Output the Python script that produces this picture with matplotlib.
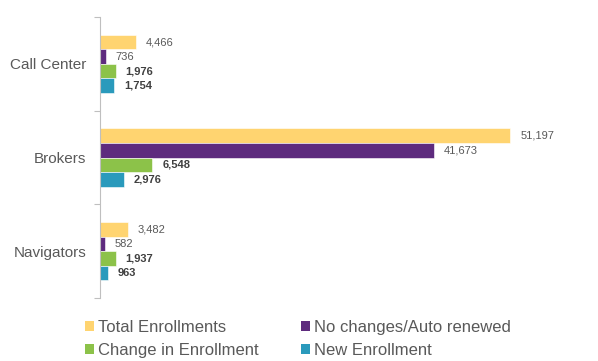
import matplotlib
matplotlib.use('Agg')
import matplotlib.pyplot as plt
from matplotlib.patches import Patch

plt.rcParams['font.family'] = ['Liberation Sans', 'DejaVu Sans']

channels = ['Call Center', 'Brokers', 'Navigators']
series = ['Total Enrollments', 'No changes/Auto renewed', 'Change in Enrollment', 'New Enrollment']
total_enrollments = [4466, 51197, 3482]
no_changes = [736, 41673, 582]
change_in_enrollment = [1976, 6548, 1937]
new_enrollment = [1754, 2976, 963]

values = [total_enrollments, no_changes, change_in_enrollment, new_enrollment]
colors = ['#FFD470', '#5E2B7E', '#8CC249', '#2A9ABC']
bold_labels = [False, False, True, True]

fig = plt.figure(figsize=(5.98, 3.61), dpi=100)
ax = fig.add_axes([100 / 598, 63 / 361, 481 / 598, 281 / 361])

bar_h = 0.155
for i, (vals, col, bold) in enumerate(zip(values, colors, bold_labels)):
    ys = [c + (i - 1.5) * bar_h for c in range(len(channels))]
    ax.barh(ys, vals, height=bar_h, color=col, edgecolor='white', linewidth=0.4)
    for y, v in zip(ys, vals):
        ax.annotate(f'{v:,}', (v, y), xytext=(7, 0), textcoords='offset points',
                    va='center', ha='left', fontsize=8,
                    fontweight='bold' if bold else 'normal',
                    color='#404040' if bold else '#595959')

ax.set_xlim(0, 60000)
ax.set_ylim(2.5, -0.5)
ax.set_yticks(range(len(channels)))
ax.set_yticklabels(channels, fontsize=11, color='#595959')
ax.set_yticks([-0.5, 0.5, 1.5, 2.5], minor=True)
ax.tick_params(axis='y', which='major', length=0, pad=10)
ax.tick_params(axis='y', which='minor', length=4, color='#BFBFBF', width=0.8)
ax.set_xticks([])
for side in ['top', 'right', 'bottom']:
    ax.spines[side].set_visible(False)
ax.spines['left'].set_color('#BFBFBF')
ax.spines['left'].set_linewidth(0.8)

# matplotlib fills legend columns first, so reorder to read row by row
order = [0, 2, 1, 3]
handles = [Patch(facecolor=colors[i], edgecolor='none') for i in order]
fig.legend(handles, [series[i] for i in order], ncol=2, frameon=False,
           loc='center left', bbox_to_anchor=(85 / 598, 22 / 361),
           fontsize=12, labelcolor='#595959', handlelength=0.55, handleheight=0.55,
           handletextpad=0.25, columnspacing=2.5, labelspacing=0.45, borderpad=0,
           borderaxespad=0)

fig.savefig('out.png', dpi=100)
